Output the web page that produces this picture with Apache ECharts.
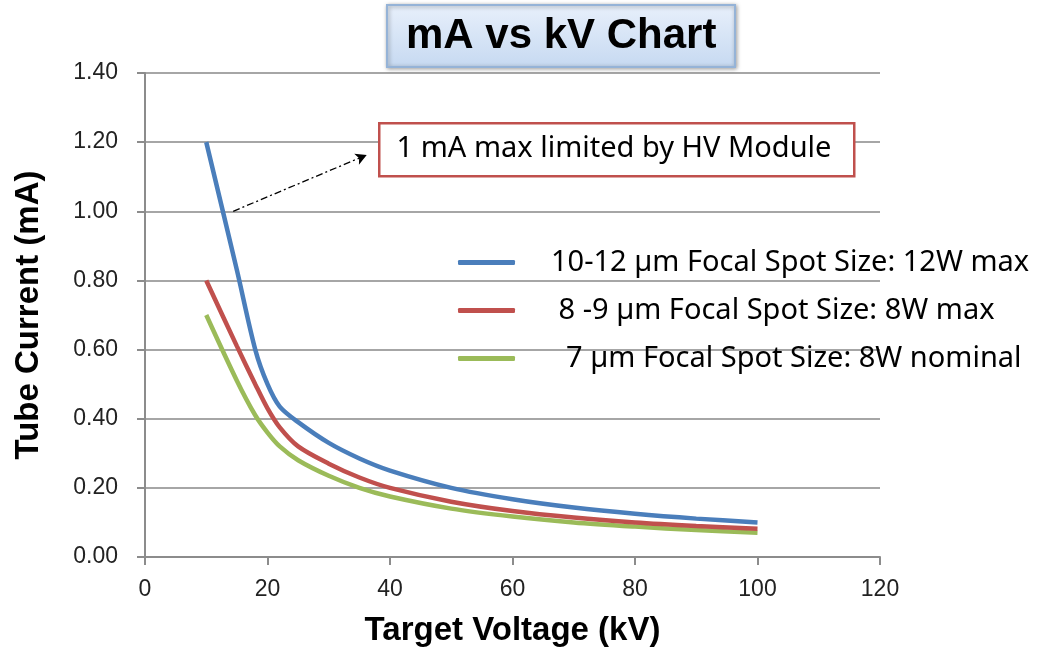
<!DOCTYPE html>
<html>
<head>
<meta charset="utf-8">
<script src="https://cdn.jsdelivr.net/npm/echarts@6/dist/echarts.min.js"></script>
<style>html,body{margin:0;padding:0;background:#fff;}#c{width:1039px;height:650px;}</style>
</head>
<body>
<div id="c"></div>
<script>
// ---- data ----
var kv = [10, 15, 18, 20, 22, 25, 30, 35, 40, 50, 60, 70, 80, 90, 100];
var blue = [1.2, 0.83, 0.6, 0.5, 0.435, 0.39, 0.33, 0.285, 0.25, 0.2, 0.167, 0.143, 0.125, 0.111, 0.1];
var red = [0.8, 0.61, 0.5, 0.43, 0.375, 0.32, 0.27, 0.23, 0.2, 0.16, 0.133, 0.114, 0.1, 0.09, 0.082];
var green = [0.7, 0.51, 0.41, 0.36, 0.32, 0.28, 0.235, 0.2, 0.175, 0.14, 0.117, 0.1, 0.088, 0.078, 0.07];
var names = ['10-12 \u00b5m Focal Spot Size: 12W max', ' 8 -9 \u00b5m Focal Spot Size: 8W max', '  7 \u00b5m Focal Spot Size: 8W nominal'];
var arrowFrom = [14.4, 1.0];
var arrowTo = [36.2, 1.163];
var noteText = '1 mA max limited by HV Module';

function pairs(ys) { return kv.map(function (x, i) { return [x, ys[i]]; }); }

var chart = echarts.init(document.getElementById('c'));
var lineW = 4.5;
var option = {
  animation: false,
  title: {
    text: 'mA vs kV Chart',
    left: 387, top: 5,
    padding: [9, 19, 9, 19],
    backgroundColor: new echarts.graphic.LinearGradient(0, 0, 0, 1, [
      { offset: 0, color: '#e8f0fb' }, { offset: 1, color: '#c6d9f1' }
    ]),
    borderColor: '#95b3d7', borderWidth: 2,
    shadowColor: 'rgba(0,0,0,0.35)', shadowBlur: 4, shadowOffsetX: 1, shadowOffsetY: 1,
    textStyle: { fontFamily: 'Liberation Sans', fontSize: 42, fontWeight: 'bold', color: '#000', lineHeight: 44 }
  },
  grid: { left: 145, right: 159, top: 73, bottom: 93, outerBoundsMode: 'none', containLabel: false },
  legend: {
    orient: 'vertical', left: 458, top: 248, padding: 0,
    itemWidth: 57, itemHeight: 5, itemGap: 19, icon: 'roundRect',
    textStyle: { fontFamily: 'Noto Sans', fontSize: 29, color: '#000', padding: [0, 0, 0, 31] },
    data: names
  },
  xAxis: {
    type: 'value', min: 0, max: 120, interval: 20,
    axisLine: { show: true, lineStyle: { color: '#8c8c8c', width: 2 } },
    axisTick: { show: true, length: 8, lineStyle: { color: '#8c8c8c', width: 2 } },
    splitLine: { show: false },
    axisLabel: { fontFamily: 'Liberation Sans', fontSize: 23, color: '#222', margin: 21 },
    name: 'Target Voltage (kV)', nameLocation: 'middle', nameGap: 57,
    nameTextStyle: { fontFamily: 'Liberation Sans', fontSize: 33, fontWeight: 'bold', color: '#000' }
  },
  yAxis: {
    type: 'value', min: 0, max: 1.4, interval: 0.2,
    axisLine: { show: true, lineStyle: { color: '#8c8c8c', width: 2 } },
    axisTick: { show: true, length: 8, lineStyle: { color: '#8c8c8c', width: 2 } },
    splitLine: { show: true, lineStyle: { color: '#a6a6a6', width: 2 } },
    axisLabel: { fontFamily: 'Liberation Sans', fontSize: 23, color: '#222', margin: 27,
      formatter: function (v) { return v.toFixed(2); } },
    name: 'Tube Current (mA)', nameLocation: 'middle', nameGap: 100,
    nameTextStyle: { fontFamily: 'Liberation Sans', fontSize: 33, fontWeight: 'bold', color: '#000' }
  },
  series: [
    { name: names[0], type: 'line', data: pairs(blue), smooth: 0.3, showSymbol: false, symbol: 'none',
      color: '#4a7ebb', lineStyle: { width: lineW, color: '#4a7ebb' }, z: 4,
      markLine: {
        silent: true, symbol: ['none', 'arrow'], symbolSize: [9, 11],
        lineStyle: { color: '#000', width: 1.3, type: [7, 3, 2, 3] },
        label: { show: false },
        data: [[{ coord: arrowFrom }, { coord: arrowTo }]]
      }
    },
    { name: names[1], type: 'line', data: pairs(red), smooth: 0.3, showSymbol: false, symbol: 'none',
      color: '#c0504d', lineStyle: { width: lineW, color: '#c0504d' }, z: 3 },
    { name: names[2], type: 'line', data: pairs(green), smooth: 0.3, showSymbol: false, symbol: 'none',
      color: '#9bbb59', lineStyle: { width: lineW, color: '#9bbb59' }, z: 2 }
  ],
  graphic: [
    { type: 'rect', left: 378, top: 122, z: 50, shape: { width: 475, height: 53 },
      style: { fill: '#fff', stroke: '#c0504d', lineWidth: 2.5 } },
    { type: 'text', x: 614, y: 149, z: 51,
      style: { text: noteText, fill: '#000', font: '29px "Noto Sans"', textAlign: 'center', textVerticalAlign: 'middle' } }
  ]
};
chart.setOption(option);
</script>
</body>
</html>
